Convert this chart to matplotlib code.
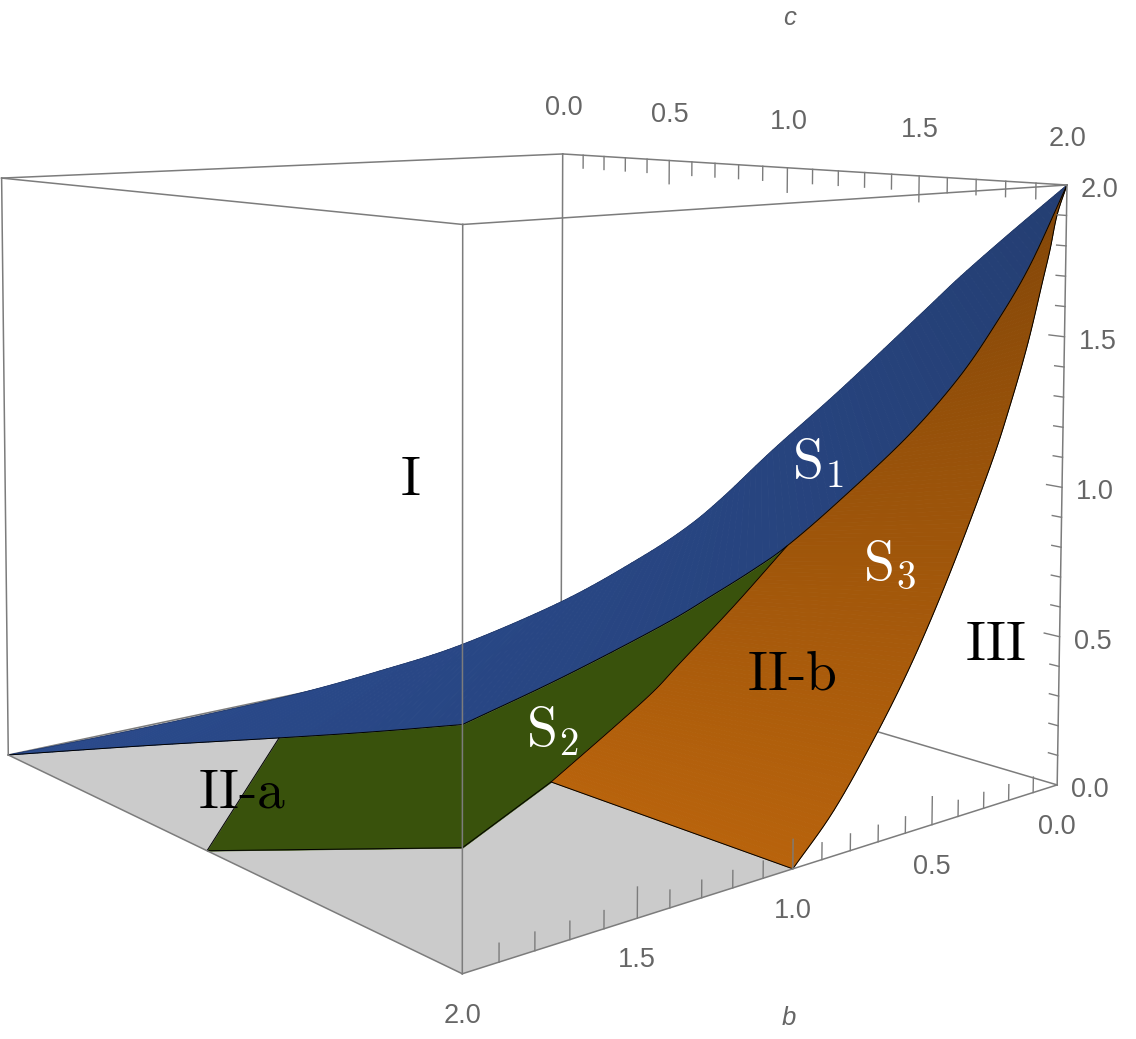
import numpy as np
import matplotlib
matplotlib.use('Agg')
import matplotlib.pyplot as plt
from mpl_toolkits.mplot3d import proj3d
from mpl_toolkits.mplot3d.art3d import Poly3DCollection

plt.rcParams['mathtext.fontset'] = 'cm'

# upper rim of S1, runs across the diagonal b + c = 2
s1_top_b = [2.0, 1.799, 1.595, 1.427, 1.273, 1.118, 0.924, 0.779, 0.691, 0.624, 0.532, 0.409, 0.258, 0.191, 0.102, 0.0]
s1_top_a = [0.0, 0.080, 0.167, 0.244, 0.328, 0.424, 0.583, 0.735, 0.843, 0.947, 1.109, 1.313, 1.577, 1.695, 1.840, 2.0]

# lower rim of S1 on the face b = 2
s1_side_c = [0.0, 0.711, 1.318, 1.681, 2.0]
s1_side_a = [0.0, 0.240, 0.441, 0.563, 0.674]

# lower rim of S1 on the face c = 2
s1_front_b = [2.0, 1.722, 1.426, 1.271, 1.142, 1.030, 0.860, 0.612, 0.427, 0.290, 0.150, 0.0]
s1_front_a = [0.674, 0.741, 0.826, 0.882, 0.932, 0.983, 1.085, 1.251, 1.407, 1.558, 1.742, 2.0]

# right rim of S3
s3_right_b = [1.0, 0.859, 0.712, 0.579, 0.444, 0.294, 0.218, 0.150, 0.093, 0.066, 0.039, 0.0]
s3_right_a = [0.0, 0.142, 0.339, 0.545, 0.795, 1.111, 1.300, 1.495, 1.695, 1.791, 1.904, 2.0]

# border between S2 and S3
s23_b = [1.010, 1.016, 1.019, 1.022, 1.026]
s23_c = [1.130, 1.380, 1.532, 1.632, 1.819]
s23_a = [0.0, 0.256, 0.416, 0.535, 0.757]

# remaining corners of S2
s2_floor = (2.0, 1.006, 0.0)
s2_edge = (2.0, 2.0, 0.342)

floor_b = [2, 2, 1, 1]
floor_c = [0, 2, 2, 0]

tick_major = [0.5, 1.0, 1.5]
tick_minor = [0.1, 0.2, 0.3, 0.4, 0.6, 0.7, 0.8, 0.9, 1.1, 1.2, 1.3, 1.4, 1.6, 1.7, 1.8, 1.9]
label_pos = [0.0, 0.5, 1.0, 1.5, 2.0]
label_txt = ['0.0', '0.5', '1.0', '1.5', '2.0']

W, H, S = 1136, 1039, 1300
GRAY = '#7c7c7c'
TXT = '#666666'
SUB = 8

fig = plt.figure(figsize=(W/100, H/100), dpi=100)
ax = fig.add_axes([(533 - S/2)/W, (H - 560 - S/2)/H, S/W, S/H], projection='3d', computed_zorder=False)
ax.set_xlim(0, 2)
ax.set_ylim(0, 2)
ax.set_zlim(0, 2)
ax.view_init(elev=10.7, azim=50.1, roll=0)
ax.set_proj_type('persp', focal_length=0.3474)
ax.set_box_aspect((1, 1, 0.8), zoom=0.91)
ax.set_axis_off()

# view_init alone leaves the box up to 10 px off, the original camera is a bit off axis
T = np.array([[1.000222, 0.000717, 0, -0.003918],
              [-0.001126, 1.000861, 0, 0.009191],
              [0, 0, 1, 0],
              [-0.005185, 0.358923, 0, 1]])
cam = T @ ax.get_proj()
ax.get_proj = lambda: cam


def smooth(pts):
    # round off the read points so the rims do not look like polylines
    p = np.array(pts, float)
    p = np.vstack([2*p[0] - p[1], p, 2*p[-1] - p[-2]])
    out = []
    for i in range(1, len(p) - 2):
        for t in np.arange(SUB)/SUB:
            out.append(0.5*(2*p[i] + (p[i + 1] - p[i - 1])*t + (2*p[i - 1] - 5*p[i] + 4*p[i + 1] - p[i + 2])*t**2
                            + (3*p[i] - p[i - 1] - 3*p[i + 1] + p[i + 2])*t**3))
    out.append(p[-2])
    return np.array(out)


def resample(p, n=160):
    s = np.r_[0, np.cumsum(np.linalg.norm(np.diff(p, axis=0), axis=1))]
    u = np.linspace(0, s[-1], n)
    return np.column_stack([np.interp(u, s, p[:, i]) for i in range(3)])


def mix(low, high, t):
    return tuple(l + (h - l)*t for l, h in zip(matplotlib.colors.to_rgb(low), matplotlib.colors.to_rgb(high)))


def strip(p, q, low, high, z):
    # thin quads between two rims, shaded by height
    p, q = resample(p), resample(q)
    quads, cols = [], []
    for i in range(len(p) - 1):
        quad = [p[i], p[i + 1], q[i + 1], q[i]]
        quads.append(quad)
        cols.append(mix(low, high, np.mean([v[2] for v in quad])/2))
    ax.add_collection3d(Poly3DCollection(quads, facecolors=cols, edgecolors=cols, linewidths=0.6, zorder=z))


def rim(pts, lw=0.7, color='black', z=5):
    pts = np.array(pts)
    ax.plot(pts[:, 0], pts[:, 1], pts[:, 2], color=color, lw=lw, zorder=z, solid_capstyle='round')


def edge(p, q, z, lw=1.1):
    ax.plot([p[0], q[0]], [p[1], q[1]], [p[2], q[2]], color=GRAY, lw=lw, zorder=z)


s1_top = smooth([(b, 2 - b, a) for b, a in zip(s1_top_b, s1_top_a)])
s1_side = smooth([(2.0, c, a) for c, a in zip(s1_side_c, s1_side_a)])
s1_front = smooth([(b, 2.0, a) for b, a in zip(s1_front_b, s1_front_a)])
s1_low = np.vstack([s1_side, s1_front[1:]])
s3_right = smooth([(b, 2.0, a) for b, a in zip(s3_right_b, s3_right_a)])

tip = 5*SUB
s23 = smooth(list(zip(s23_b, s23_c, s23_a)) + [s1_front[tip]])
s3_left = np.vstack([s23, s1_front[tip + 1:]])
start = s23[0]

# floor, then the box edges that sit behind the surfaces
ax.add_collection3d(Poly3DCollection([list(zip(floor_b, floor_c, [0, 0, 0, 0]))],
                                     facecolors='#cbcbcb', edgecolors='none', zorder=1))
edge((0, 0, 0), (0, 0, 2), 2)
edge((0, 0, 0), (0, 2, 0), 2)
edge((0, 0, 0), (2, 0, 0), 2)

strip(s1_top, s1_low, '#2a4a8c', '#243e72', 3)
s2 = np.vstack([[s2_floor], s1_side[2*SUB:], s1_front[1:tip + 1], s23[::-1], [s2_edge]])
ax.add_collection3d(Poly3DCollection([s2], facecolors='#39520c', edgecolors='#39520c', linewidths=0.4, zorder=3))
strip(s3_left, s3_right, '#b8630c', '#824608', 3)

rim(s1_top, lw=0.3, color='#1c2f58')
rim(s1_low)
rim(s23)
rim(s3_right)
rim([start, s3_right[0]])
rim([s1_side[2*SUB], s2_floor, s2_edge, start])

# box edges in front
for p, q in [((2, 0, 2), (0, 0, 2)), ((0, 0, 2), (0, 2, 2)), ((0, 2, 2), (2, 2, 2)), ((2, 2, 2), (2, 0, 2)),
             ((2, 0, 0), (2, 0, 2)), ((2, 2, 0), (2, 2, 2)), ((0, 2, 0), (0, 2, 2)),
             ((2, 0, 0), (2, 2, 0)), ((2, 2, 0), (0, 2, 0))]:
    edge(p, q, 6)

for vals, ln_ac, ln_c in [(tick_major, 0.09, 0.05), (tick_minor, 0.052, 0.03)]:
    for t in vals:
        edge((t, 2, 0), (t, 2, ln_ac), 6, lw=1.0)
        edge((0, t, 2), (0, t, 2 - ln_ac), 6, lw=1.0)
        edge((0, 2, t), (0, 2 - ln_c, t), 6, lw=1.0)


def tick_text(txt, b, c, a, dx, dy, **kw):
    x, y, _ = proj3d.proj_transform(b, c, a, cam)
    ax.annotate(txt, (x, y), xytext=(dx, dy), textcoords='offset pixels', ha='center', va='center',
                color=TXT, family='Liberation Sans', annotation_clip=False, zorder=7, **kw)


for t, txt in zip(label_pos, label_txt):
    tick_text(txt, t, 2, 0, 0, -42, fontsize=19.5)
    tick_text(txt, 0, t, 2, 1, 46, fontsize=19.5)
    tick_text(txt, 0, 2, t, 33, -5, fontsize=19.5)

tick_text('b', 1, 2, 0, -4, -149, fontsize=18.5, style='italic')
tick_text('c', 0, 1, 2, 2, 150, fontsize=18.5, style='italic')

region_labels = [('$\\mathrm{I}$', 410, 480, 'black'), ('$\\mathrm{II}\\text{-}\\mathrm{a}$', 242, 793, 'black'),
                 ('$\\mathrm{II}\\text{-}\\mathrm{b}$', 792, 674, 'black'), ('$\\mathrm{III}$', 995, 645, 'black'),
                 ('$\\mathrm{S}_1$', 818, 464, 'white'), ('$\\mathrm{S}_2$', 552, 732, 'white'),
                 ('$\\mathrm{S}_3$', 890, 565, 'white')]
for txt, x, y, col in region_labels:
    fig.text(x/W, 1 - y/H, txt, color=col, fontsize=40, ha='center', va='center')

fig.savefig('out.png', dpi=100)
